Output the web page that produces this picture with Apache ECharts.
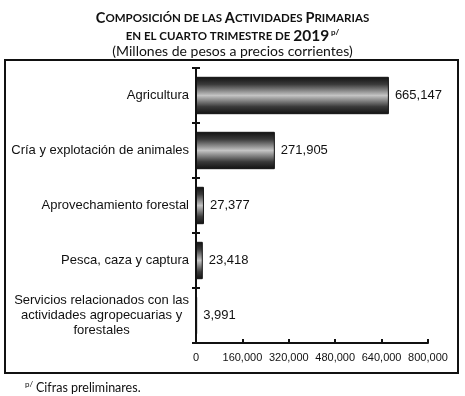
<!DOCTYPE html>
<html><head><meta charset="utf-8">
<script src="https://cdn.jsdelivr.net/npm/echarts@6/dist/echarts.min.js"></script>
<style>html,body{margin:0;padding:0;background:#fff}#c{width:465px;height:396px}</style>
</head><body><div id="c"></div>
<script>
const categories = ['Agricultura', 'Cría y explotación de animales', 'Aprovechamiento forestal', 'Pesca, caza y captura', 'Servicios relacionados con las\nactividades agropecuarias y\nforestales'];
const values = [665147, 271905, 27377, 23418, 3991];
const xTicks = [0, 160000, 320000, 480000, 640000, 800000];

function smallCaps(str) {
  let out = '';
  for (const ch of str) {
    if (ch === ' ') { out += '{s| }'; continue; }
    if (ch !== ch.toLowerCase()) out += '{b|' + ch + '}';
    else out += '{s|' + ch.toUpperCase() + '}';
  }
  return out;
}
const fmt = v => v.toLocaleString('en-US');
const chart = echarts.init(document.getElementById('c'));
const titleRich = {
  b: {fontFamily: 'Lato', fontWeight: 'bold', fontSize: 14.5, color: '#111'},
  s: {fontFamily: 'Lato', fontWeight: 'bold', fontSize: 11.5, color: '#111'},
  y: {fontFamily: 'Lato', fontWeight: 'bold', fontSize: 15.5, color: '#111'},
  p: {fontFamily: 'Lato', fontSize: 8, color: '#111', padding: [0, 0, 8, 0]}
};
chart.setOption({
  animation: false,
  title: [
    {text: smallCaps('Composición de las Actividades Primarias'), left: 'center', top: 6, textStyle: {rich: titleRich}},
    {text: smallCaps('en el cuarto trimestre de ') + '{y|2019}{p| p/}', left: 'center', top: 23, textStyle: {rich: titleRich}},
    {text: '(Millones de pesos a precios corrientes)', left: 'center', top: 39, textStyle: {fontFamily: 'Lato', fontWeight: 'normal', fontSize: 14, color: '#111'}},
    {text: 'p/', left: 20, top: 375, textStyle: {fontFamily: 'Lato', fontWeight: 'normal', fontSize: 8, color: '#111'}},
    {text: 'Cifras preliminares.', left: 31, top: 376, textStyle: {fontFamily: 'Lato', fontWeight: 'normal', fontSize: 12.5, color: '#111'}}
  ],
  graphic: [{type: 'rect', shape: {x: 5, y: 60, width: 453, height: 313}, style: {fill: 'none', stroke: '#111', lineWidth: 2}, z: 100}],
  grid: {left: 196, top: 68, right: 37, bottom: 53, containLabel: false},
  xAxis: {
    type: 'value', min: 0, max: 800000, interval: 160000,
    axisLine: {show: true, lineStyle: {color: '#111', width: 2}},
    axisTick: {show: true, inside: true, length: 4, lineStyle: {color: '#111', width: 2}},
    splitLine: {show: false},
    axisLabel: {margin: 9, fontFamily: 'Liberation Sans', fontSize: 11, color: '#111', formatter: v => fmt(v)}
  },
  yAxis: [{
    type: 'category', data: categories, inverse: true,
    axisLine: {show: true, lineStyle: {color: '#111', width: 2}},
    axisTick: {show: true, length: 4, lineStyle: {color: '#111', width: 2}},
    axisLabel: {margin: 7, fontFamily: 'Liberation Sans', fontSize: 13, color: '#111', lineHeight: 15,
      formatter: v => v.split('\n').map(l => '{c|' + l + '}').join('\n'),
      rich: {c: {align: 'center', fontFamily: 'Liberation Sans', fontSize: 13, color: '#111', lineHeight: 15}}}
  }, {
    type: 'category', data: categories, inverse: true, position: 'left',
    axisLine: {show: false},
    axisTick: {show: true, inside: true, length: 4, lineStyle: {color: '#111', width: 2}},
    axisLabel: {show: false}
  }],
  series: [{
    type: 'bar', data: values, barWidth: '68%',
    itemStyle: {
      borderColor: '#111', borderWidth: 1,
      color: {type: 'linear', x: 0, y: 0, x2: 0, y2: 1, colorStops: [
        {offset: 0, color: '#111'}, {offset: 0.2, color: '#3a3a3a'}, {offset: 0.5, color: '#c4c4c4'},
        {offset: 0.8, color: '#3a3a3a'}, {offset: 1, color: '#111'}]}
    },
    label: {show: true, position: 'right', distance: 6, fontFamily: 'Liberation Sans', fontSize: 13, color: '#111', formatter: p => fmt(p.value)}
  }]
});
</script></body></html>
